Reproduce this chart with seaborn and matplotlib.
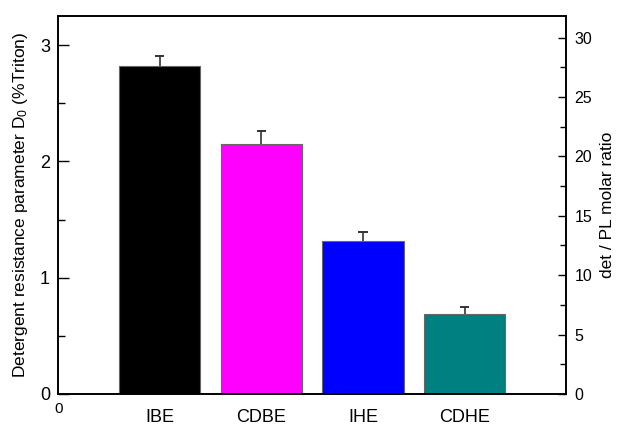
import matplotlib
matplotlib.use("Agg")
import matplotlib.pyplot as plt
import seaborn as sns
import pandas as pd
from matplotlib.ticker import MultipleLocator

# Detergent resistance per membrane preparation
categories = ["IBE", "CDBE", "IHE", "CDHE"]
positions = [1, 2, 3, 4]
d0_values = [2.82, 2.15, 1.32, 0.69]
d0_errors = [0.09, 0.11, 0.07, 0.06]
bar_colors = ["#000000", "#FF00FF", "#0000FF", "#008080"]

df = pd.DataFrame({"pos": positions, "cat": categories, "d0": d0_values})

sns.set_style("ticks")
plt.rcParams["font.family"] = ["Liberation Sans", "DejaVu Sans"]
plt.rcParams["mathtext.fontset"] = "custom"
plt.rcParams["mathtext.rm"] = "Liberation Sans"
plt.rcParams["mathtext.it"] = "Liberation Sans:italic"
for key in ("text.color", "axes.labelcolor", "xtick.color", "ytick.color",
            "axes.edgecolor"):
    plt.rcParams[key] = "black"

fig = plt.figure(figsize=(6.2, 4.25), dpi=100)
ax = fig.add_axes([0.094, 0.073, 0.819, 0.889])

sns.barplot(data=df, x="pos", y="d0", hue="cat", hue_order=categories,
            palette=bar_colors, saturation=1, native_scale=True, dodge=False,
            width=0.8, errorbar=None, edgecolor="#666666", linewidth=0.8,
            legend=False, ax=ax)

# Upper-only error bars: stem from bar top to cap
tops = [v + e for v, e in zip(d0_values, d0_errors)]
ax.vlines(positions, d0_values, tops, colors="#333333", linewidth=1.2, zorder=3)
ax.hlines(tops, [p - 0.045 for p in positions], [p + 0.045 for p in positions],
          colors="#333333", linewidth=1.4, zorder=3)

ax.set_xlim(0, 5)
ax.set_ylim(0, 3.25)
ax.set_xticks(positions)
ax.set_xticklabels(categories)
ax.set_xticks([0], minor=True)
ax.set_xticklabels(["0"], minor=True)
ax.tick_params(axis="x", which="major", length=0, pad=11, labelsize=13)
ax.tick_params(axis="x", which="minor", length=0, pad=6, labelsize=11)
ax.set_xlabel("")

ax.yaxis.set_major_locator(MultipleLocator(1))
ax.yaxis.set_minor_locator(MultipleLocator(0.5))
ax.tick_params(axis="y", which="major", direction="in", length=8, width=1,
               labelsize=13, pad=6)
ax.tick_params(axis="y", which="minor", direction="in", length=5, width=1)
ax.set_ylabel("Detergent resistance parameter D$_0$ (%Triton)", fontsize=12.5,
              labelpad=7)

ax2 = ax.twinx()
ax2.set_ylim(0, 31.8)
ax2.yaxis.set_major_locator(MultipleLocator(5))
ax2.yaxis.set_minor_locator(MultipleLocator(2.5))
ax2.tick_params(axis="y", which="major", direction="in", length=6, width=1,
                labelsize=11.5, pad=6)
ax2.tick_params(axis="y", which="minor", direction="in", length=4, width=1)
ax2.set_ylabel("det / PL molar ratio", fontsize=12.5, labelpad=6)

for a in (ax, ax2):
    for s in a.spines.values():
        s.set_visible(True)
        s.set_linewidth(1.2)
        s.set_color("black")

fig.savefig("out.png", dpi=100)
